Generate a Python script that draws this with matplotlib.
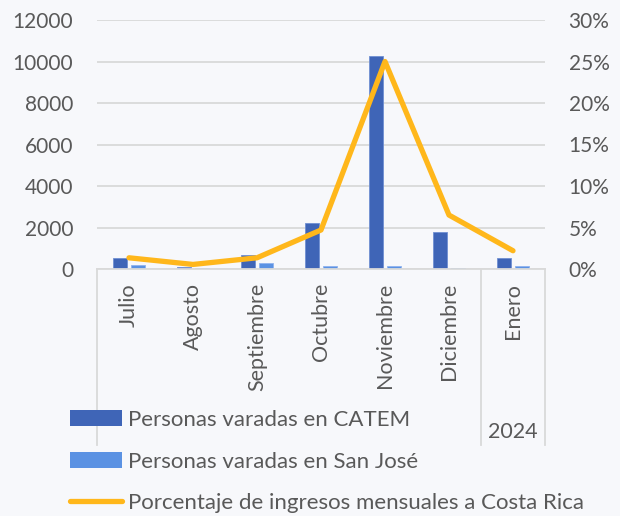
import numpy as np
import matplotlib
matplotlib.use('Agg')
import matplotlib.pyplot as plt
from matplotlib.patches import Patch
from matplotlib.lines import Line2D
from matplotlib.ticker import FuncFormatter

plt.rcParams['font.family'] = ['Lato', 'DejaVu Sans']

# Datos
meses = ['Julio', 'Agosto', 'Septiembre', 'Octubre', 'Noviembre', 'Diciembre', 'Enero']
catem = [530, 120, 670, 2200, 10280, 1780, 550]
san_jose = [190, 60, 290, 150, 150, 70, 140]
porcentaje = [0.0135, 0.0055, 0.0135, 0.047, 0.25, 0.065, 0.022]
anio_grupos = ['', '2024']
grupo_limites = [-0.5, 5.5, 6.5]

txt = '#595959'
grid_c = '#D9D9D9'
c_catem = '#3F65B7'
c_sj = '#5B92E3'
c_line = '#FFB71B'
bg = '#F7F8FB'

fig = plt.figure(figsize=(6.2, 5.16), dpi=100, facecolor=bg)
ax = fig.add_axes([97 / 620, 1 - 269 / 516, 448 / 620, 249 / 516])
ax.set_facecolor('none')

x = np.arange(len(meses))
w = 0.22
ax.bar(x - 0.14, catem, w, color=c_catem, edgecolor='#6F8FD3', linewidth=0.6, zorder=2)
ax.bar(x + 0.14, san_jose, w, color=c_sj, edgecolor='#8FB3EE', linewidth=0.6, zorder=2)

ax.set_ylim(0, 12000)
ax.set_xlim(-0.5, 6.5)
ax.set_yticks(range(0, 12001, 2000))
ax.yaxis.grid(True, color=grid_c, linewidth=1.3, zorder=0)
ax.set_axisbelow(True)
for s in ['top', 'left', 'right']:
    ax.spines[s].set_visible(False)
ax.spines['bottom'].set_color(grid_c)
ax.spines['bottom'].set_linewidth(1.3)
ax.tick_params(axis='y', length=0, pad=17, labelsize=15, labelcolor=txt)
ax.set_xticks(x)
ax.set_xticklabels(meses, rotation=90, fontsize=15.5, color=txt)
ax.tick_params(axis='x', length=0, pad=10)

ax2 = ax.twinx()
ax2.plot(x, porcentaje, color=c_line, linewidth=3.8, solid_capstyle='round', zorder=3)
ax2.set_ylim(0, 0.30)
ax2.set_yticks(np.arange(0, 0.301, 0.05))
ax2.yaxis.set_major_formatter(FuncFormatter(lambda v, p: f'{v * 100:.0f}%'))
ax2.tick_params(axis='y', length=0, pad=17, labelsize=15, labelcolor=txt)
for s in ax2.spines.values():
    s.set_visible(False)

# caja de categorias de varios niveles
box_bottom = -(445 - 269) / 249
for xb in grupo_limites:
    ax.plot([xb, xb], [0, box_bottom], transform=ax.get_xaxis_transform(),
            color=grid_c, linewidth=1.3, clip_on=False)
for i, lab in enumerate(anio_grupos):
    xc = (grupo_limites[i] + grupo_limites[i + 1]) / 2
    ax.text(xc, -(432 - 269) / 249, lab, transform=ax.get_xaxis_transform(),
            ha='center', va='center', fontsize=15.5, color=txt)

handles = [Patch(facecolor=c_catem, edgecolor='none'),
           Patch(facecolor=c_sj, edgecolor='none'),
           Line2D([0], [0], color=c_line, linewidth=3.8, solid_capstyle='round')]
labels = ['Personas varadas en CATEM', 'Personas varadas en San José',
          'Porcentaje de ingresos mensuales a Costa Rica']
leg = fig.legend(handles, labels, loc='upper left', bbox_to_anchor=(70 / 620, 1 - 410 / 516),
                 frameon=False, fontsize=16, handlelength=2.35, handletextpad=0.27,
                 labelspacing=0.97, borderpad=0, borderaxespad=0)
for t in leg.get_texts():
    t.set_color(txt)

fig.savefig('out.png', dpi=100, facecolor=bg)
